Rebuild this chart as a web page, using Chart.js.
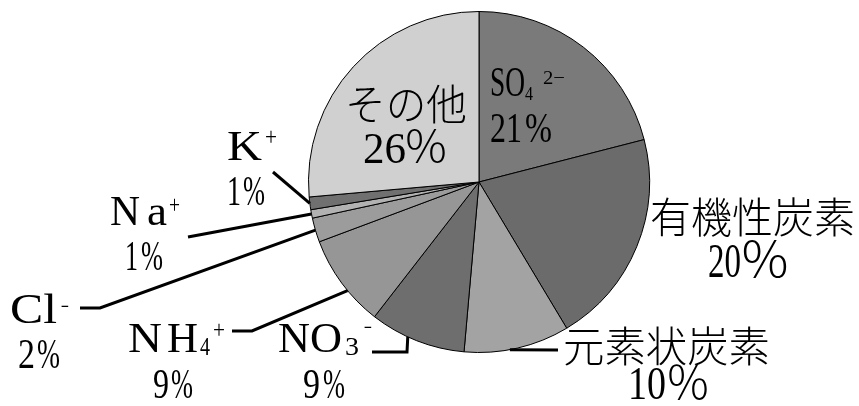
<!DOCTYPE html>
<html>
<head>
<meta charset="utf-8">
<script src="https://cdn.jsdelivr.net/npm/chart.js@4"></script>
<style>
  html, body { margin: 0; padding: 0; background: #fff; }
  #wrap { width: 859px; height: 406px; }
</style>
</head>
<body>
<div id="wrap"><canvas id="pie" width="859" height="406"></canvas></div>
<script>
// components, clockwise from 12 o'clock
const components = ['SO4', '有機性炭素', '元素状炭素', 'NO3', 'NH4', 'Cl', 'Na', 'K', 'その他'];
const shares = [21.0, 20.4, 10.0, 9.1, 8.8, 2.3, 0.8, 1.2, 26.4];
const percentText = ['21%', '20％', '10％', '9%', '9%', '2%', '1%', '1%', '26％'];
const sliceColors = ['#7a7a7a', '#6b6b6b', '#a3a3a3', '#6e6e6e', '#969696', '#9c9c9c', '#b2b2b2', '#707070', '#d0d0d0'];

const FONT = '"Liberation Serif", "Noto Sans CJK JP", serif';

// text layout: each piece is {t, s: font size, x: left, w: width, dy: shift from baseline}
// pct: number drawn at nx (width nw), percent sign at px (width pw)
let labelLayout = [
    { y: 96, parts: [{ t: 'SO', s: 43, x: 490, w: 35 }, { t: '4', s: 19, x: 525, w: 8, dy: 4 }, { t: '2−', s: 19, x: 543, w: 22, dy: -12 }],
      pct: { y: 142, s: 42, nx: 490, nw: 32, px: 525, pw: 27 } },
    { y: 233, parts: [{ t: '有機性炭素', s: 42, x: 650, w: 205 }],
      pct: { y: 277, s: 48, nx: 708, nw: 33, px: 739, pw: 52 } },
    { y: 362, parts: [{ t: '元素状炭素', s: 42, x: 563, w: 207 }],
      pct: { y: 399, s: 46, nx: 628, nw: 38, px: 665, pw: 46 },
      leader: [[558, 350]], frac: 0.57 },
    { y: 352, parts: [{ t: 'NO', s: 42, x: 278, w: 64 }, { t: '3', s: 26, x: 345, w: 14, dy: 3 }, { t: '−', s: 26, x: 364, w: 8, dy: -16 }],
      pct: { y: 398, s: 42, nx: 303, nw: 17, px: 323, pw: 22 },
      leader: [[372, 352], [407, 352]], frac: 0.6 },
    { y: 352, parts: [{ t: 'N', s: 42, x: 128, w: 34 }, { t: 'H', s: 42, x: 167, w: 31 }, { t: '4', s: 26, x: 200, w: 10, dy: 3 }, { t: '+', s: 26, x: 213, w: 12, dy: -14 }],
      pct: { y: 398, s: 42, nx: 153, nw: 16, px: 171, pw: 22 },
      leader: [[232, 331], [252, 331]], frac: 0.4 },
    { y: 323, parts: [{ t: 'Cl', s: 42, x: 10, w: 47 }, { t: '−', s: 26, x: 61, w: 8, dy: -8 }],
      pct: { y: 368, s: 42, nx: 18, nw: 17, px: 37, pw: 23 },
      leader: [[80, 308], [100, 308]], frac: 0.5 },
    { y: 225, parts: [{ t: 'N', s: 42, x: 110, w: 30 }, { t: 'a', s: 42, x: 147, w: 20 }, { t: '+', s: 26, x: 169, w: 11, dy: -12 }],
      pct: { y: 270, s: 42, nx: 125, nw: 13, px: 141, pw: 22 },
      leader: [[188, 237]], frac: 0.5 },
    { y: 160, parts: [{ t: 'K', s: 42, x: 227, w: 35 }, { t: '+', s: 26, x: 265, w: 12, dy: -15 }],
      pct: { y: 205, s: 42, nx: 227, nw: 14, px: 243, pw: 22 },
      leader: [[273, 172]], frac: 0.5 },
    { y: 120, parts: [{ t: 'その他', s: 42, x: 345, w: 122 }],
      pct: { y: 163, s: 44, nx: 363, nw: 43, px: 403, pw: 46 } }
];

function fitText(ctx, text, size, x, y, w) {
    ctx.font = '300 ' + size + 'px ' + FONT;
    let natural = ctx.measureText(text).width;
    ctx.save();
    ctx.translate(x, y);
    ctx.scale(w / natural, 1);
    ctx.fillText(text, 0, 0);
    ctx.restore();
}

const labelPlugin = {
    id: 'pieLabels',
    afterDraw(chart) {
        let ctx = chart.ctx;
        let meta = chart.getDatasetMeta(0);
        ctx.save();
        ctx.fillStyle = '#000';
        ctx.strokeStyle = '#000';
        ctx.lineWidth = 3;
        ctx.textAlign = 'left';
        ctx.textBaseline = 'alphabetic';
        labelLayout.forEach((lab, i) => {
            let arc = meta.data[i].getProps(['x', 'y', 'startAngle', 'endAngle', 'outerRadius'], true);
            if (lab.leader) {
                let a = arc.startAngle + (arc.endAngle - arc.startAngle) * lab.frac;
                let px = arc.x + arc.outerRadius * Math.cos(a);
                let py = arc.y + arc.outerRadius * Math.sin(a);
                ctx.beginPath();
                ctx.moveTo(lab.leader[0][0], lab.leader[0][1]);
                lab.leader.slice(1).forEach(pt => ctx.lineTo(pt[0], pt[1]));
                ctx.lineTo(px, py);
                ctx.stroke();
            }
            lab.parts.forEach(p => fitText(ctx, p.t, p.s, p.x, lab.y + (p.dy || 0), p.w));

            let pct = lab.pct;
            let txt = percentText[i];
            fitText(ctx, txt.slice(0, -1), pct.s, pct.nx, pct.y, pct.nw);
            fitText(ctx, txt.slice(-1), pct.s, pct.px, pct.y, pct.pw);
        });
        ctx.restore();
    }
};

new Chart(document.getElementById('pie').getContext('2d'), {
    type: 'pie',
    data: {
        labels: components,
        datasets: [{
            data: shares,
            backgroundColor: sliceColors,
            borderColor: '#000',
            borderWidth: 1
        }]
    },
    options: {
        responsive: false,
        animation: false,
        layout: {
            padding: { left: 308, right: 209, top: 11, bottom: 53 }
        },
        plugins: {
            legend: { display: false },
            tooltip: { enabled: false }
        }
    },
    plugins: [labelPlugin]
});
</script>
</body>
</html>
